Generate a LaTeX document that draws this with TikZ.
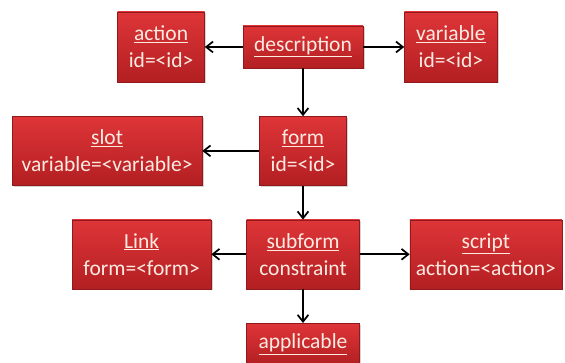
\documentclass[tikz,border=0pt]{standalone}
\usepackage{fontspec}
\setmainfont{Carlito}
\usepackage{tikz}
\usetikzlibrary{arrows.meta,positioning,shadows}
\definecolor{redtop}{HTML}{DE3538}
\definecolor{redbot}{HTML}{B31F22}
\definecolor{cream}{HTML}{FDEBE2}
\newcommand{\head}[1]{\underline{#1}}
\tikzset{
  tag/.style={rectangle,top color=redtop,bottom color=redbot,draw=redbot!80!black,line width=0.4pt,
    text=cream,align=center,inner sep=0pt,minimum height=69pt,
    font=\fontsize{21.5}{27}\selectfont,drop shadow={opacity=0.35,shadow xshift=1.5pt,shadow yshift=-1.5pt}},
  arr/.style={-{Straight Barb[length=2.4mm,width=3.8mm]},line width=1.7pt,color=black}
}
\begin{document}
\begin{tikzpicture}[node distance=34pt]
  \useasboundingbox (0,0) rectangle (565pt,-363pt);
  \node[tag,minimum width=120pt,minimum height=42pt] (desc) at (303pt,-47pt) {\head{description}};
  \node[tag,minimum width=87pt,minimum height=70pt,left=38pt of desc] (action) {\head{action}\\id=<id>};
  \node[tag,minimum width=93pt,minimum height=70pt,right=41pt of desc] (variable) {\head{variable}\\id=<id>};
  \node[tag,minimum width=87pt,below=48pt of desc] (form) {\head{form}\\id=<id>};
  \node[tag,minimum width=190pt,left=57pt of form] (slot) {\head{slot}\\variable=<variable>};
  \node[tag,minimum width=113pt,below=of form] (subform) {\head{subform}\\constraint};
  \node[tag,minimum width=139pt,left=35pt of subform] (link) {\head{Link}\\form=<form>};
  \node[tag,minimum width=152pt,right=50pt of subform] (script) {\head{script}\\action=<action>};
  \node[tag,minimum width=113pt,minimum height=42pt,below=of subform] (appl) {\head{applicable}};
  \draw[arr] (desc) -- (action);
  \draw[arr] (desc) -- (variable);
  \draw[arr] (desc) -- (form);
  \draw[arr] (form) -- (slot);
  \draw[arr] (form) -- (subform);
  \draw[arr] (subform) -- (link);
  \draw[arr] (subform) -- (script);
  \draw[arr] (subform) -- (appl);
\end{tikzpicture}
\end{document}
